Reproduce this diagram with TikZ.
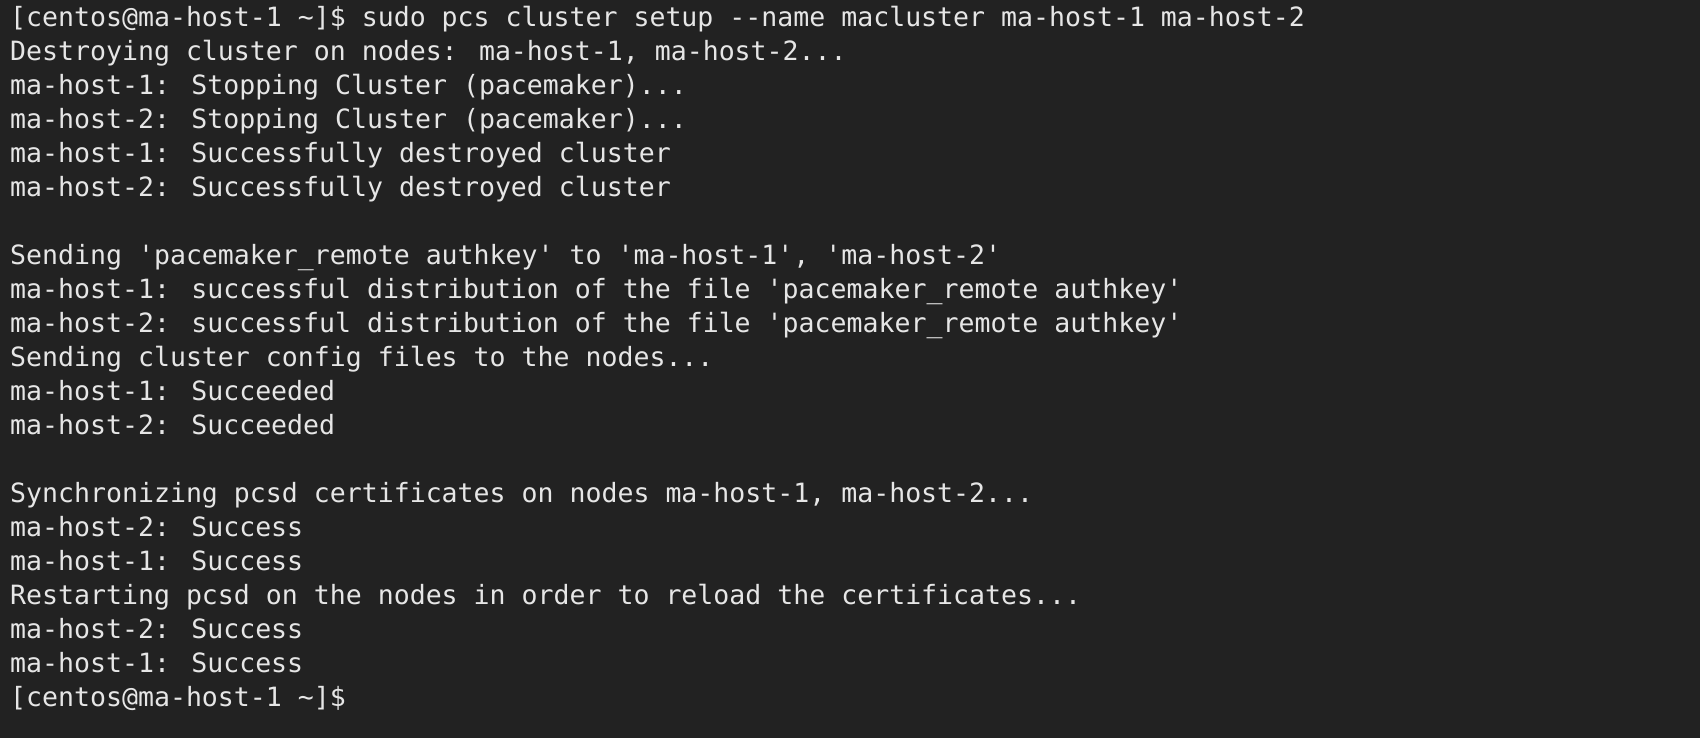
\documentclass[tikz,border=0pt]{standalone}
\usepackage{fontspec}
\newfontfamily\termfont{DejaVu Sans Mono}
\definecolor{termbg}{HTML}{222222}
\definecolor{termfg}{HTML}{E6E6E6}
\newcommand{\tline}[2]{\node[termline] (l#1) at (10,{738-27-(#1-1)*34.0}) {#2};}

\begin{document}
\begin{tikzpicture}[x=1pt,y=1pt,
    termline/.style={anchor=base west,inner sep=0pt,text=termfg,
      font=\termfont\fontsize{26.55}{26.55}\selectfont}]
  \fill[termbg] (0,0) rectangle (1700,738);
  \useasboundingbox (0,0) rectangle (1700,738);
  % one node per terminal line, baselines 34 apart
  \tline{1}{[centos@ma-host-1 \textasciitilde]\$ sudo pcs cluster setup --name macluster ma-host-1 ma-host-2}
  \tline{2}{Destroying cluster on nodes: ma-host-1, ma-host-2...}
  \tline{3}{ma-host-1: Stopping Cluster (pacemaker)...}
  \tline{4}{ma-host-2: Stopping Cluster (pacemaker)...}
  \tline{5}{ma-host-1: Successfully destroyed cluster}
  \tline{6}{ma-host-2: Successfully destroyed cluster}
  \tline{8}{Sending 'pacemaker\_remote authkey' to 'ma-host-1', 'ma-host-2'}
  \tline{9}{ma-host-1: successful distribution of the file 'pacemaker\_remote authkey'}
  \tline{10}{ma-host-2: successful distribution of the file 'pacemaker\_remote authkey'}
  \tline{11}{Sending cluster config files to the nodes...}
  \tline{12}{ma-host-1: Succeeded}
  \tline{13}{ma-host-2: Succeeded}
  \tline{15}{Synchronizing pcsd certificates on nodes ma-host-1, ma-host-2...}
  \tline{16}{ma-host-2: Success}
  \tline{17}{ma-host-1: Success}
  \tline{18}{Restarting pcsd on the nodes in order to reload the certificates...}
  \tline{19}{ma-host-2: Success}
  \tline{20}{ma-host-1: Success}
  \tline{21}{[centos@ma-host-1 \textasciitilde]\$}
\end{tikzpicture}
\end{document}
